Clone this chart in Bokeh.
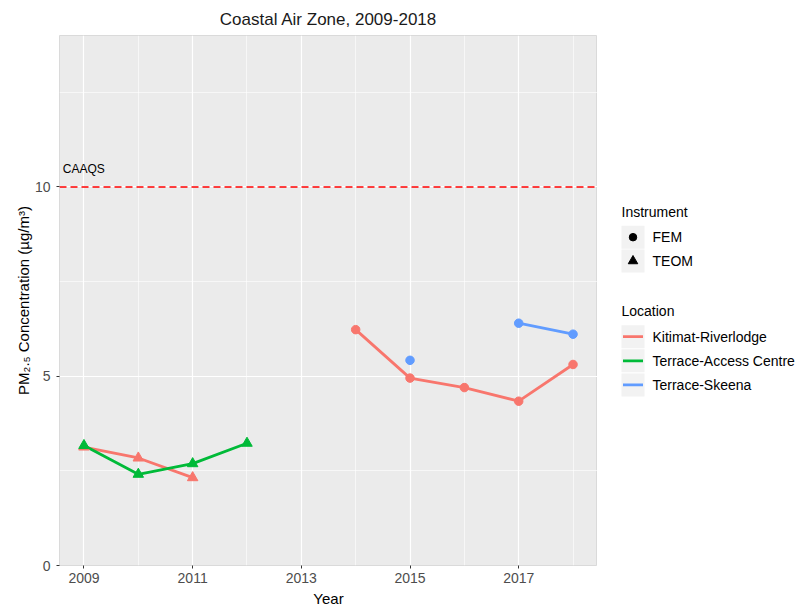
import math
from bokeh.plotting import figure
from bokeh.layouts import row
from bokeh.models import FixedTicker, Range1d, Span
from bokeh.core.properties import value
from bokeh.embed import file_html
from bokeh.resources import INLINE

FONT = "Liberation Sans"

# Annual PM2.5 design values (ug/m3) by station and instrument
kitimat_teom_years = [2009, 2010, 2011]
kitimat_teom_vals = [3.13, 2.84, 2.32]
kitimat_fem_years = [2014, 2015, 2016, 2017, 2018]
kitimat_fem_vals = [6.23, 4.95, 4.70, 4.34, 5.31]
access_teom_years = [2009, 2010, 2011, 2012]
access_teom_vals = [3.17, 2.41, 2.69, 3.23]
skeena_fem_years = [2015, 2016, 2017, 2018]
skeena_fem_vals = [5.42, float("nan"), 6.40, 6.11]

caaqs_value = 10
x_major = [2009, 2011, 2013, 2015, 2017]
x_minor = [2010, 2012, 2014, 2016, 2018]
y_major = [0, 5, 10]
y_minor = [2.5, 7.5, 12.5]

locations = ["Kitimat-Riverlodge", "Terrace-Access Centre", "Terrace-Skeena"]
loc_colors = ["#F8766D", "#00BA38", "#619CFF"]
instruments = ["FEM", "TEOM"]

p = figure(width=597, height=609, output_backend="svg", toolbar_location=None,
           x_range=Range1d(2008.55, 2018.45), y_range=Range1d(0, 14),
           min_border_left=59, min_border_right=0, min_border_top=35,
           min_border_bottom=44, title="Coastal Air Zone, 2009-2018")
p.background_fill_color = "#EBEBEB"
p.border_fill_color = "white"
p.outline_line_color = "#DADADA"
p.outline_line_width = 1

p.title.align = "center"
p.title.text_font = FONT
p.title.text_font_size = "17px"
p.title.text_font_style = "normal"
p.title.text_color = "#1A1A1A"
p.title.standoff = 14

p.xaxis.ticker = FixedTicker(ticks=x_major, minor_ticks=x_minor)
p.yaxis.ticker = FixedTicker(ticks=y_major, minor_ticks=y_minor)
for g in (p.xgrid, p.ygrid):
    g.grid_line_color = "white"
    g.grid_line_width = 1.2
    g.minor_grid_line_color = "white"
    g.minor_grid_line_width = 0.6

for ax in (p.xaxis, p.yaxis):
    ax.axis_line_color = None
    ax.major_tick_line_color = "#333333"
    ax.major_tick_out = 3
    ax.major_tick_in = 0
    ax.minor_tick_line_color = None
    ax.major_label_text_font = FONT
    ax.major_label_text_font_size = "14px"
    ax.major_label_text_color = "#4D4D4D"
    ax.axis_label_text_font = FONT
    ax.axis_label_text_font_size = "15px"
    ax.axis_label_text_font_style = "normal"
    ax.axis_label_text_color = "black"

p.xaxis.axis_label = "Year"
p.xaxis.major_label_standoff = 3
p.xaxis.axis_label_standoff = 4
p.yaxis.axis_label = "PM\u2082.\u2085 Concentration (\u00b5g/m\u00b3)"
p.yaxis.major_label_standoff = 5
p.yaxis.axis_label_standoff = 0

# CAAQS reference line and tag
p.add_layout(Span(location=caaqs_value, dimension="width", line_color="#FF0000",
                  line_width=1.6, line_dash="7 4"))
p.text(x=[2008.61], y=[caaqs_value + 0.48], text=["CAAQS"], text_font=value(FONT),
       text_font_size="12px", text_color="black", text_align="left",
       text_baseline="middle")

series = [
    (kitimat_teom_years, kitimat_teom_vals, loc_colors[0], "TEOM"),
    (kitimat_fem_years, kitimat_fem_vals, loc_colors[0], "FEM"),
    (access_teom_years, access_teom_vals, loc_colors[1], "TEOM"),
    (skeena_fem_years, skeena_fem_vals, loc_colors[2], "FEM"),
]
for xs, ys, col, inst in series:
    p.line(xs, ys, line_color=col, line_width=2.8)
for xs, ys, col, inst in series:
    if inst == "FEM":
        p.scatter(xs, ys, marker="circle", size=8.5, fill_color=col, line_color=col)
    else:
        p.scatter(xs, ys, marker="triangle", size=10.5, fill_color=col, line_color=col)

# Legend panel; its frame lines up with the main frame, so the y range
# spans the same page rows (35 to 565) in pixel units
leg = figure(width=200, height=609, output_backend="svg", toolbar_location=None,
             x_range=Range1d(597, 797), y_range=Range1d(565, 35),
             min_border=0)
leg.axis.visible = False
leg.grid.visible = False
leg.outline_line_color = None
leg.background_fill_color = "white"
leg.border_fill_color = "white"

key_x0, key_x1 = 621, 644
key_cx = (key_x0 + key_x1) / 2
label_x = 652

def legend_title(txt, y):
    leg.text(x=[key_x0], y=[y], text=[txt], text_font=value(FONT),
             text_font_size="14px", text_color="black", text_align="left",
             text_baseline="middle")

def legend_label(txt, y):
    leg.text(x=[label_x], y=[y], text=[txt], text_font=value(FONT),
             text_font_size="14px", text_color="black", text_align="left",
             text_baseline="middle")

legend_title("Instrument", 211.5)
inst_y = [236.7, 260.5]
inst_markers = ["circle", "triangle"]
inst_sizes = [7.5, 9.5]
for name, yc, mk, sz in zip(instruments, inst_y, inst_markers, inst_sizes):
    leg.quad(left=key_x0, right=key_x1, top=yc - 11.5, bottom=yc + 11.5,
             fill_color="#F2F2F2", line_color=None)
    leg.scatter([key_cx], [yc], marker=mk, size=sz, fill_color="black", line_color="black")
    legend_label(name, yc)

legend_title("Location", 310.5)
loc_y = [336.2, 360.3, 384.4]
for name, yc, col in zip(locations, loc_y, loc_colors):
    leg.quad(left=key_x0, right=key_x1, top=yc - 11.5, bottom=yc + 11.5,
             fill_color="#F2F2F2", line_color=None)
    leg.line([key_x0 + 1.5, key_x1 - 1.5], [yc, yc], line_color=col, line_width=2.8)
    legend_label(name, yc)

layout = row(p, leg, spacing=0)
open("out.html", "w").write(file_html(layout, INLINE))
